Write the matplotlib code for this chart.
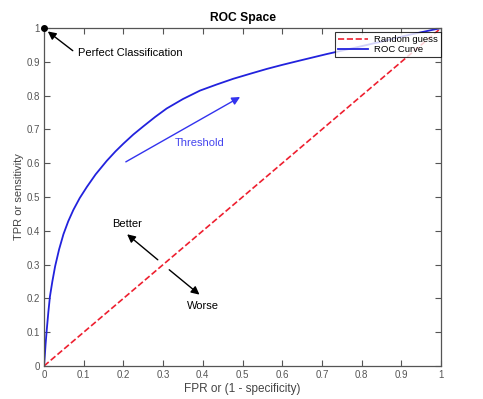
import matplotlib

matplotlib.use("Agg")
import matplotlib.pyplot as plt

plt.rcParams["font.family"] = ["Liberation Sans", "DejaVu Sans"]

# values
guess_x = [0.0, 1.0]
guess_y = [0.0, 1.0]
roc_fpr = [0.0, 0.002, 0.004, 0.007, 0.011, 0.015, 0.021, 0.028, 0.038,
           0.049, 0.061, 0.074, 0.09, 0.108, 0.13, 0.158, 0.18, 0.2, 0.225,
           0.25, 0.28, 0.309, 0.35, 0.393, 0.435, 0.477, 0.52, 0.561, 0.6,
           0.645, 0.712, 0.78, 0.85, 0.92, 1.0]
roc_tpr = [0.0, 0.03, 0.065, 0.108, 0.16, 0.206, 0.25, 0.295, 0.345,
           0.39, 0.428, 0.462, 0.497, 0.530, 0.567, 0.607, 0.635, 0.658, 0.685,
           0.709, 0.737, 0.762, 0.79, 0.815, 0.833, 0.850, 0.865, 0.879, 0.891,
           0.904, 0.923, 0.941, 0.96, 0.98, 1.0]
ticks = [0, 0.1, 0.2, 0.3, 0.4, 0.5, 0.6, 0.7, 0.8, 0.9, 1]
tick_labels = ["0", "0.1", "0.2", "0.3", "0.4", "0.5", "0.6", "0.7", "0.8", "0.9", "1"]

fig = plt.figure(figsize=(4.83, 3.99), dpi=100)
ax = fig.add_axes([0.0911, 0.0827, 0.822, 0.847])

ax.plot(guess_x, guess_y, "--", color="#ee2030", lw=1.2, label="Random guess")
ax.plot(roc_fpr, roc_tpr, "-", color="#2222dd", lw=1.3, label="ROC Curve")
ax.plot([0], [1], "o", color="black", ms=4, clip_on=False, zorder=5)

arrow = dict(arrowstyle="-|>", color="black", lw=1.0, mutation_scale=12)
ax.annotate("", xy=(0.004, 0.995), xytext=(0.078, 0.928), arrowprops=arrow)
ax.text(0.086, 0.926, "Perfect Classification", fontsize=8, va="center", ha="left")

ax.annotate("", xy=(0.5, 0.8), xytext=(0.2, 0.6),
            arrowprops=dict(arrowstyle="-|>", color="#3333ee", lw=1.0, mutation_scale=12))
ax.text(0.393, 0.66, "Threshold", fontsize=8, color="#4444ee", ha="center", va="center")

ax.annotate("", xy=(0.204, 0.395), xytext=(0.292, 0.309), arrowprops=arrow)
ax.text(0.208, 0.42, "Better", fontsize=8, ha="center", va="center")
ax.annotate("", xy=(0.397, 0.206), xytext=(0.31, 0.29), arrowprops=arrow)
ax.text(0.40, 0.179, "Worse", fontsize=8, ha="center", va="center")

ax.set_xlim(0, 1)
ax.set_ylim(0, 1)
ax.set_xticks(ticks)
ax.set_xticklabels(tick_labels)
ax.set_yticks(ticks)
ax.set_yticklabels(tick_labels)
ax.tick_params(direction="in", top=True, right=True, length=4, width=0.8,
               labelsize=7, colors="#555555", labelcolor="#555555", pad=3)
for s in ax.spines.values():
    s.set_color("#555555")
    s.set_linewidth(0.9)

ax.set_title("ROC Space", fontsize=8.7, fontweight="bold", pad=5)
ax.set_xlabel("FPR or (1 - specificity)", fontsize=8.5, color="#444444", labelpad=2)
ax.set_ylabel("TPR or sensitivity", fontsize=8, color="#444444", labelpad=2)

leg = ax.legend(loc="upper right", fontsize=6.8, frameon=True, fancybox=False,
                edgecolor="black", handlelength=3.2, borderpad=0.3,
                labelspacing=0.1, handletextpad=0.6, borderaxespad=0,
                bbox_to_anchor=(0.999, 0.988))
leg.get_frame().set_linewidth(0.8)

fig.savefig("out.png", dpi=100)
plt.close(fig)
